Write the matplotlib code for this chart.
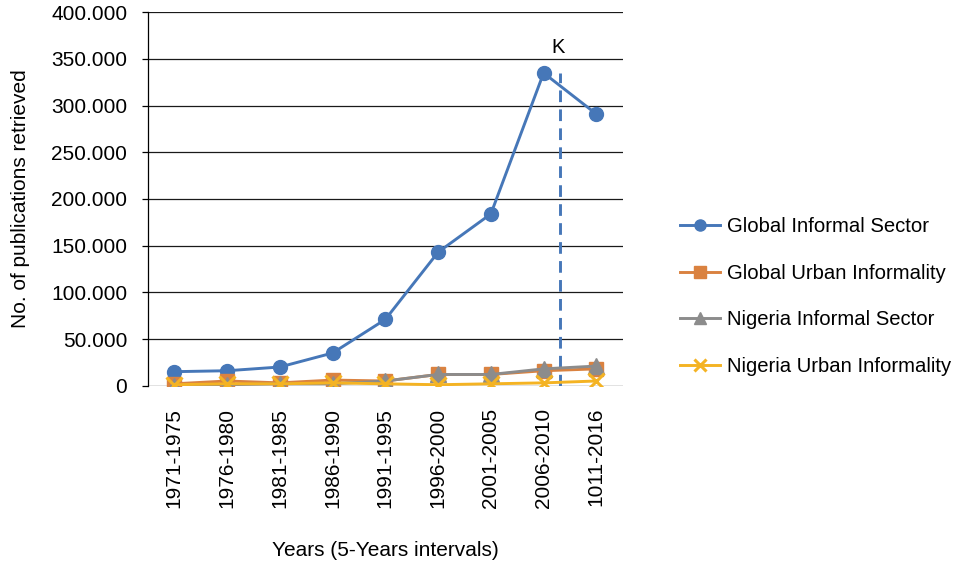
import matplotlib
matplotlib.use("Agg")
import matplotlib.pyplot as plt
from matplotlib.ticker import FuncFormatter, MultipleLocator

plt.rcParams['font.family'] = ['Liberation Sans', 'DejaVu Sans']

periods = ["1971-1975", "1976-1980", "1981-1985", "1986-1990", "1991-1995",
           "1996-2000", "2001-2005", "2006-2010", "1011-2016"]

global_informal_sector = [15000, 16000, 20000, 35000, 71000, 143000, 184000, 335000, 291000]
global_urban_informality = [2000, 5000, 3000, 6000, 5000, 12000, 12000, 16000, 18000]
nigeria_informal_sector = [0, 1000, 2000, 2000, 5000, 12000, 12000, 18000, 21000]
nigeria_urban_informality = [1000, 2000, 2000, 3000, 2000, 1000, 2000, 3000, 5000]

k_position = 7.32
k_height = 335000
k_label_y = 362000

fig = plt.figure(figsize=(9.64, 5.67), dpi=100)
ax = fig.add_axes([0.1535, 0.3198, 0.4925, 0.6585])

x = list(range(len(periods)))
series = [
    ("Global Informal Sector", global_informal_sector, "#4677B8", "o", 10),
    ("Global Urban Informality", global_urban_informality, "#DA8240", "s", 10),
    ("Nigeria Informal Sector", nigeria_informal_sector, "#8C8C8C", "^", 11),
    ("Nigeria Urban Informality", nigeria_urban_informality, "#F4B323", "x", 11),
]
handles = []
for name, vals, color, marker, ms in series:
    kw = dict(color=color, lw=2.1, marker=marker, markersize=ms, label=name, zorder=3)
    if marker == "x":
        kw.update(markeredgewidth=2.2)
    else:
        kw.update(markeredgecolor=color)
    h, = ax.plot(x, vals, **kw)
    handles.append(h)

ax.plot([k_position, k_position], [0, k_height], color="#4677B8", lw=2.1,
        linestyle=(0, (4, 2.5)), zorder=2)
ax.text(k_position - 0.05, k_label_y, "K", ha="center", va="center", fontsize=14.5)

ax.set_xlim(-0.5, len(periods) - 0.5)
ax.set_ylim(0, 400000)
ax.yaxis.set_major_locator(MultipleLocator(50000))
ax.yaxis.set_major_formatter(FuncFormatter(lambda v, p: f"{v:,.0f}".replace(",", ".")))
ax.set_xticks(x)
ax.set_xticklabels(periods, rotation=90)

ax.grid(axis="y", color="#1a1a1a", lw=0.9)
ax.set_axisbelow(True)
for s in ["top", "right", "bottom"]:
    ax.spines[s].set_visible(False)
ax.spines["left"].set_color("black")
ax.spines["left"].set_linewidth(0.9)
ax.tick_params(axis="y", length=4, width=0.9, pad=11, labelsize=15)
ax.tick_params(axis="x", length=0, pad=16, labelsize=15)

ax.set_ylabel("No. of publications retrieved", fontsize=15, labelpad=15)
ax.set_xlabel("Years (5-Years intervals)", fontsize=15, labelpad=24)

fig.legend(handles=handles, loc="center left", bbox_to_anchor=(0.686, 0.477),
           frameon=False, fontsize=14.6, labelspacing=1.35, handlelength=2.0,
           handletextpad=0.35, markerscale=0.8)

fig.savefig("out.png", dpi=100)
